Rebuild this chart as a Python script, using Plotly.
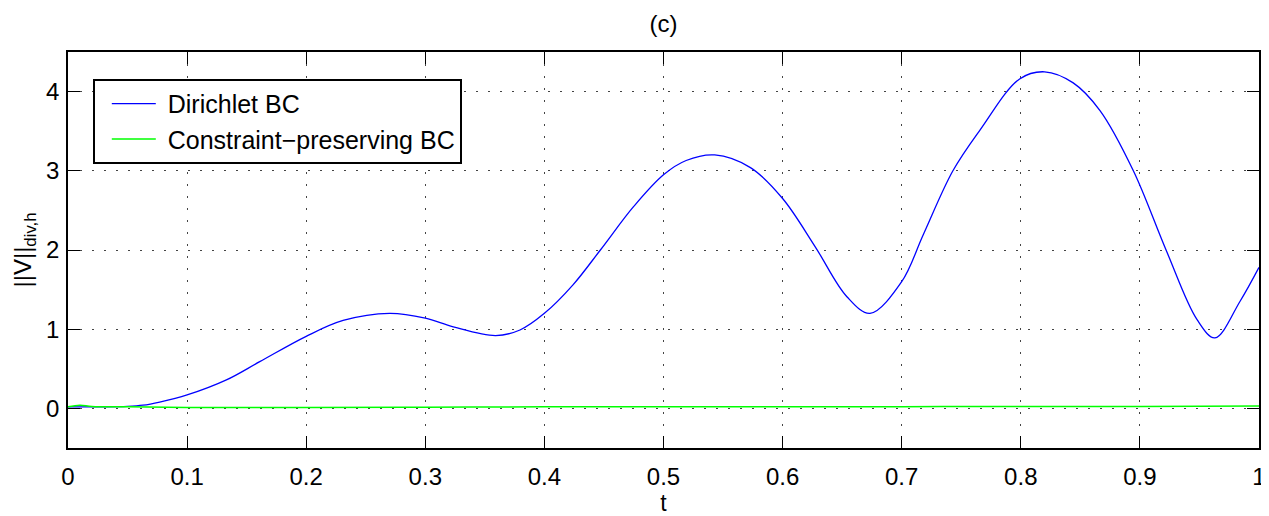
import plotly.graph_objects as go

# values
t_dir = [0.0, 0.025, 0.05, 0.063, 0.077, 0.1, 0.133, 0.161, 0.2, 0.231, 0.27,
         0.3, 0.3235, 0.359, 0.3795, 0.4, 0.424, 0.447, 0.475, 0.5,
         0.519, 0.543, 0.573, 0.6, 0.627, 0.654, 0.6734, 0.7, 0.718, 0.743, 0.766,
         0.799, 0.82, 0.844, 0.8665, 0.8945, 0.9225, 0.948, 0.963, 0.984, 1.0]
v_dir = [0.02, 0.02, 0.025, 0.04, 0.08, 0.17, 0.36, 0.59, 0.91, 1.11, 1.20,
         1.14, 1.03, 0.92, 0.99, 1.20, 1.56, 2.0, 2.55, 2.95,
         3.13, 3.20, 3.04, 2.65, 2.05, 1.41, 1.20, 1.60, 2.19, 3.0, 3.52,
         4.16, 4.25, 4.11, 3.76, 3.0, 1.98, 1.12, 0.89, 1.35, 1.78]

t_cp = [0.0, 0.01, 0.02, 0.05, 0.1, 0.2, 0.3, 0.4, 0.5, 0.6, 0.7, 0.8, 0.9, 1.0]
v_cp = [0.02, 0.04, 0.025, 0.02, 0.012, 0.012, 0.015, 0.02, 0.02, 0.02, 0.022, 0.025, 0.025, 0.03]

x_ticks = [0, 0.1, 0.2, 0.3, 0.4, 0.5, 0.6, 0.7, 0.8, 0.9, 1]
x_labels = ["0", "0.1", "0.2", "0.3", "0.4", "0.5", "0.6", "0.7", "0.8", "0.9", "1"]
y_ticks = [0, 1, 2, 3, 4]

gap = "\u00a0"

fig = go.Figure()
fig.add_trace(go.Scatter(x=t_dir, y=v_dir, mode="lines", name=gap + "Dirichlet BC",
                         line=dict(color="#0000ff", width=1.3, shape="spline", smoothing=1.0)))
fig.add_trace(go.Scatter(x=t_cp, y=v_cp, mode="lines", name=gap + "Constraint\u2212preserving BC",
                         line=dict(color="#00ff00", width=1.5, shape="spline", smoothing=1.0)))

axis_common = dict(
    showline=True, linecolor="black", linewidth=1.8, mirror="ticks",
    ticks="inside", ticklen=12, tickwidth=1.3, tickcolor="black",
    showgrid=True, gridcolor="#444444", gridwidth=1.2, griddash="1.5px,10.5px",
    zeroline=False, tickfont=dict(size=24, color="black"), automargin=False,
)

# the page body adds an 8px offset, so the figure is 8px smaller than the window
W, H = 1261, 508

fig.update_layout(
    width=W, height=H,
    margin=dict(l=60, r=10, t=44, b=68),
    paper_bgcolor="white", plot_bgcolor="white",
    font=dict(family="Liberation Sans, Arial, sans-serif", color="black", size=24),
    title=dict(text="(c)", x=0.5, xref="paper", y=1 - 16 / H, yanchor="middle",
               font=dict(size=24, color="black"), automargin=False),
    xaxis=dict(range=[0, 1], tickvals=x_ticks, ticktext=x_labels, ticklabelstandoff=6,
               title=dict(text="t", font=dict(size=23), standoff=2), **axis_common),
    yaxis=dict(range=[-0.5, 4.5], tickvals=y_ticks, ticklabelstandoff=2,
               title=dict(text="||V||<sub>div,h</sub>", font=dict(size=24), standoff=8),
               **axis_common),
    legend=dict(x=(93 - 68) / 1191, y=(448 - 79) / 396, xanchor="left", yanchor="top",
                bgcolor="white", bordercolor="black", borderwidth=1.8,
                font=dict(size=25, color="black"), tracegroupgap=0,
                itemwidth=44, indentation=12),
    showlegend=True,
)

fig.write_html("out.html")
